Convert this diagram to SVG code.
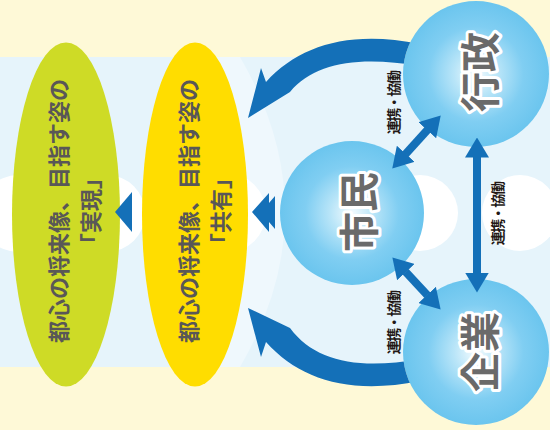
<svg xmlns="http://www.w3.org/2000/svg" width="550" height="430" viewBox="0 0 550 430">
  <style>
    .ellipse-text { font-family: "Noto Sans CJK JP", "Noto Sans", sans-serif; font-weight: bold; font-size: 22px; fill: #595757; }
    .circle-text { font-family: "Noto Sans CJK JP", "Noto Sans", sans-serif; font-weight: bold; font-size: 40px; fill: #6a6a6a; stroke: #ffffff; stroke-width: 6px; stroke-linejoin: round; paint-order: stroke; }
    .link-label { font-family: "Noto Sans CJK JP", "Noto Sans", sans-serif; font-weight: bold; font-size: 14px; letter-spacing: -1.5px; fill: #231815; }
    .blue { fill: #1470B8; }
    .dbl { stroke: #1470B8; stroke-width: 8; fill: none; marker-start: url(#ah); marker-end: url(#ah); }
    .cloud { fill: #ffffff; }
  </style>
  <defs>
    <radialGradient id="bubble" cx="0.5" cy="0.5" r="0.5">
      <stop offset="0" stop-color="#F4FBFE"/>
      <stop offset="0.3" stop-color="#B9E5F8"/>
      <stop offset="0.65" stop-color="#80CEF2"/>
      <stop offset="1" stop-color="#6BC5EE"/>
    </radialGradient>
    <marker id="ah" markerUnits="userSpaceOnUse" markerWidth="20" markerHeight="24" viewBox="0 0 20 24" refX="0.5" refY="12" orient="auto-start-reverse">
      <path d="M0,0 L20,12 L0,24 Z" fill="#1470B8"/>
    </marker>
    <clipPath id="outsideCircles">
      <path clip-rule="evenodd" d="M-10,-10 H560 V440 H-10 Z M403,74 a73,73 0 1,0 146,0 a73,73 0 1,0 -146,0 Z M403,352 a73,73 0 1,0 146,0 a73,73 0 1,0 -146,0 Z"/>
    </clipPath>
  </defs>

  <!-- background -->
  <rect x="0" y="0" width="550" height="430" fill="#FEF9D7"/>
  <rect x="0" y="57" width="550" height="310" fill="#E6F4FB"/>
  <path d="M240,57 Q330,212 240,367 L200,367 L200,57 Z" fill="#EFF8FD"/>
  <rect class="cloud" x="-20" y="175" width="165" height="77" rx="38"/>
  <circle class="cloud" cx="226" cy="213" r="40"/>
  <circle class="cloud" cx="420" cy="213" r="38"/>
  <circle class="cloud" cx="520" cy="213" r="38"/>

  <!-- ellipse nodes -->
  <g id="node-jitsugen">
    <ellipse cx="66" cy="214.5" rx="54" ry="172" fill="#CEDB26"/>
    <text class="ellipse-text" transform="translate(57,211) rotate(-90)" text-anchor="middle" dominant-baseline="central">都心の将来像、目指す姿の</text>
    <text class="ellipse-text" transform="translate(89,211) rotate(-90)" text-anchor="middle" dominant-baseline="central">「実現」</text>
  </g>
  <g id="node-kyouyuu">
    <ellipse cx="195" cy="214.5" rx="53" ry="172" fill="#FFDD00"/>
    <text class="ellipse-text" transform="translate(187,211) rotate(-90)" text-anchor="middle" dominant-baseline="central">都心の将来像、目指す姿の</text>
    <text class="ellipse-text" transform="translate(219,211) rotate(-90)" text-anchor="middle" dominant-baseline="central">「共有」</text>
  </g>

  <!-- circle nodes -->
  <g id="node-gyousei">
    <circle cx="476" cy="74" r="73" fill="url(#bubble)"/>
    <text class="circle-text" transform="translate(478,72) rotate(-90)" text-anchor="middle" dominant-baseline="central">行政</text>
  </g>
  <g id="node-shimin">
    <circle cx="352" cy="213" r="72" fill="url(#bubble)"/>
    <text class="circle-text" transform="translate(357,212) rotate(-90)" text-anchor="middle" dominant-baseline="central">市民</text>
  </g>
  <g id="node-kigyou">
    <circle cx="476" cy="352" r="73" fill="url(#bubble)"/>
    <text class="circle-text" transform="translate(478,352) rotate(-90)" text-anchor="middle" dominant-baseline="central">企業</text>
  </g>

  <!-- connectors -->
  <g id="connectors">
    <g clip-path="url(#outsideCircles)">
      <path class="blue" d="M248,118 L261,68 L266,82 C300,45 350,30 420,44 L420,66 C360,56 315,62 290,92 Z"/>
      <path class="blue" d="M248,308 L261,357 L266,342 C300,380 350,395 420,381 L420,359 C360,370 315,362 290,328 Z"/>
    </g>
    <path class="blue" d="M115,212 L132,192 L132,232 Z"/>
    <path class="blue" d="M252,212 L269,193 L269,203 L275,196 L275,229 L269,222 L269,232 Z"/>
    <line class="dbl" x1="427.6" y1="129.8" x2="405.4" y2="154.2"/>
    <line class="dbl" x1="405.6" y1="271.7" x2="427.4" y2="295.3"/>
    <line class="dbl" x1="477" y1="157" x2="477" y2="273"/>
    <text class="link-label" transform="translate(393,103) rotate(-90)" text-anchor="middle" dominant-baseline="central">連携・協働</text>
    <text class="link-label" transform="translate(497,214) rotate(-90)" text-anchor="middle" dominant-baseline="central">連携・協働</text>
    <text class="link-label" transform="translate(393,323) rotate(-90)" text-anchor="middle" dominant-baseline="central">連携・協働</text>
  </g>
</svg>
